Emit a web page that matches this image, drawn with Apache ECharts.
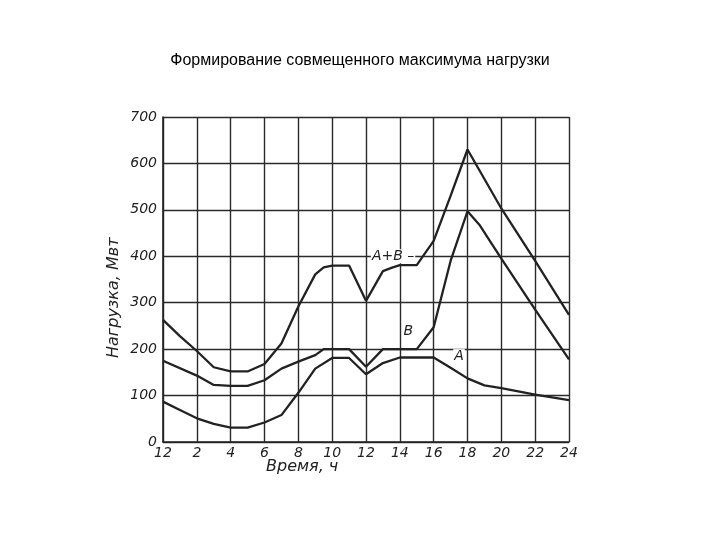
<!DOCTYPE html>
<html>
<head>
<meta charset="utf-8">
<script src="https://cdn.jsdelivr.net/npm/echarts@6/dist/echarts.min.js"></script>
<style>html,body{margin:0;padding:0;background:#fff}#c{width:720px;height:540px}</style>
</head>
<body>
<div id="c"></div>
<script>
var title = 'Формирование совмещенного максимума нагрузки';
var xTickLabels = ['12','2','4','6','8','10','12','14','16','18','20','22','24'];
var yTicks = [0,100,200,300,400,500,600,700];
var xAxisName = 'Время, ч';
var yAxisName = 'Нагрузка, Мвт';

var hoursA = [0,1,2,3,4,5,6,7,8,9,10,11,12,13,14,15,16,17,18,19,20,21,22,23,24];
var loadA  = [87,69,51,39,31,31,42,58,106,158,181,181,146,170,182,182,182,160,137,122,116,109,102,96,90];

var hoursB = [0,2,3,4,5,6,7,8,9,9.5,11,12,13,15,16,17,18,18.7,20,22,24];
var loadB  = [175,143,123,121,121,133,158,173,187,200,200,162,200,200,247,390,497,468,395,285,178];

var hoursAB = [0,1,2,3,4,5,6,7,8,9,9.5,10,11,12,13,13.5,14,15,16,17,18,20,22,24];
var loadAB  = [263,228,196,161,152,152,168,212,292,361,376,380,380,304,368,375,381,381,433,530,630,503,390,274];

var curveLabels = ['A+B –','B','A'];
var labelHours = [13.6,14.5,17.5];
var labelLoads = [400,238,185];

function pairs(xs, ys){ return xs.map(function(x,i){ return [x, ys[i]]; }); }

var lineColor = '#222';
var font = 'DejaVu Sans';
var chart = echarts.init(document.getElementById('c'));
chart.setOption({
  animation: false,
  backgroundColor: '#fff',
  title: { text: title, left: 'center', top: 48,
    textStyle: { fontFamily: 'Liberation Sans', fontSize: 16, fontWeight: 'normal', color: '#000' } },
  grid: { left: 163, right: 151, top: 117, bottom: 98 },
  xAxis: {
    type: 'value', min: 0, max: 24, interval: 2,
    axisLine: { lineStyle: { color: '#222', width: 1.6 } },
    axisTick: { show: false },
    axisLabel: { margin: 4, fontFamily: font, fontStyle: 'italic', fontSize: 14, color: '#222',
      formatter: function(v){ return xTickLabels[Math.round(v/2)]; } },
    splitLine: { show: true, lineStyle: { color: '#2a2a2a', width: 1.4 } }
  },
  yAxis: {
    type: 'value', min: yTicks[0], max: yTicks[yTicks.length-1], interval: 100,
    axisLine: { show: true, lineStyle: { color: '#222', width: 1.6 } },
    axisTick: { show: false },
    axisLabel: { margin: 6, fontFamily: font, fontStyle: 'italic', fontSize: 14, color: '#222' },
    splitLine: { show: true, lineStyle: { color: '#2a2a2a', width: 1.4 } }
  },
  graphic: [
    { type: 'text', left: 266, top: 459, style: { text: xAxisName, font: 'italic 16px "DejaVu Sans"', fill: '#222' } },
    { type: 'text', x: 106, y: 358, rotation: Math.PI/2, style: { text: yAxisName, font: 'italic 16px "DejaVu Sans"', fill: '#222' } }
  ],
  series: [
    { name: 'A+B', type: 'line', data: pairs(hoursAB, loadAB), showSymbol: false,
      lineStyle: { color: lineColor, width: 2.3 }, z: 3 },
    { name: 'B', type: 'line', data: pairs(hoursB, loadB), showSymbol: false,
      lineStyle: { color: lineColor, width: 2.3 }, z: 3 },
    { name: 'A', type: 'line', data: pairs(hoursA, loadA), showSymbol: false,
      lineStyle: { color: lineColor, width: 2.3 }, z: 3 },
    { name: 'labels', type: 'scatter', symbolSize: 0, z: 4, itemStyle: { opacity: 1 },
      data: labelHours.map(function(h,i){ return { value: [h, labelLoads[i]], name: curveLabels[i] }; }),
      label: { show: true, position: 'inside', formatter: function(p){ return p.name; },
        fontFamily: font, fontStyle: 'italic', fontSize: 14, color: '#222', opacity: 1, backgroundColor: '#fff', padding: [0,1] } }
  ]
});
</script>
</body>
</html>
